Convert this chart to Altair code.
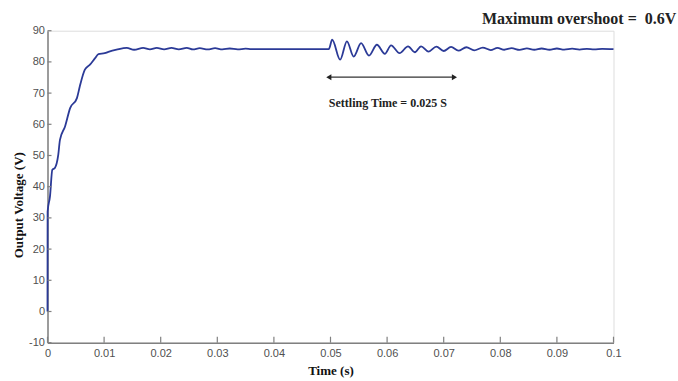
import altair as alt
import pandas as pd

# --- data ---
time_s = [0.0, 0.00002, 0.00044, 0.00085, 0.0013, 0.0019, 0.0022, 0.0031, 0.0040, 0.0052,
          0.0057, 0.0066, 0.0075, 0.0084, 0.0090, 0.0101, 0.0109, 0.0122,
          0.0140, 0.0153, 0.0169, 0.0181, 0.0193, 0.0206, 0.0219, 0.0232, 0.0246, 0.0257,
          0.0269, 0.0283, 0.0296, 0.0309, 0.0322, 0.0336, 0.0350, 0.0360, 0.0497,
          0.0503, 0.0517, 0.0529, 0.0541, 0.0554, 0.0568, 0.0582, 0.0596, 0.0607, 0.0622,
          0.0637, 0.0649, 0.0660, 0.0673, 0.0687, 0.0700, 0.0713, 0.0726, 0.0740, 0.0754,
          0.0769, 0.0783, 0.0795, 0.0807, 0.0820, 0.0834, 0.0847, 0.0860, 0.0873, 0.0887,
          0.0900, 0.0913, 0.0927, 0.0940, 0.0953, 0.0966, 0.0980, 0.1000]
voltage = [0.0, 32.0, 36.9, 45.4, 46.0, 50.2, 55.0, 59.3, 65.2, 68.4,
           72.1, 77.5, 79.1, 81.2, 82.5, 82.8, 83.3, 83.9,
           84.5, 83.9, 84.5, 84.0, 84.5, 84.0, 84.5, 84.0, 84.5, 84.0,
           84.4, 84.0, 84.4, 84.0, 84.3, 84.0, 84.25, 84.1, 84.1,
           87.1, 80.7, 86.6, 81.7, 86.0, 82.0, 85.5, 82.6, 85.3, 82.8,
           85.0, 83.1, 85.0, 83.3, 84.9, 83.5, 84.8, 83.6, 84.7, 83.7,
           84.6, 83.8, 84.5, 83.9, 84.4, 83.85, 84.35, 83.9, 84.3, 83.9,
           84.3, 83.95, 84.25, 83.95, 84.2, 84.0, 84.2, 84.1]

x_ticks = [0.0, 0.01, 0.02, 0.03, 0.04, 0.05, 0.06, 0.07, 0.08, 0.09, 0.1]
y_ticks = [-10, 0, 10, 20, 30, 40, 50, 60, 70, 80, 90]

overshoot_text = "Maximum overshoot = \u00a00.6V"
settling_text = "Settling Time = 0.025 S"
arrow_start, arrow_end, arrow_level = 0.0497, 0.0719, 75.1

df = pd.DataFrame({"t": time_s, "v": voltage})
xt = pd.DataFrame({"t": x_ticks})
yt = pd.DataFrame({"v": y_ticks})

W, H = 566, 312
axis_gray = "#808080"
label_gray = "#505050"

xscale = alt.Scale(domain=[0, 0.1], nice=False, zero=False)
yscale = alt.Scale(domain=[-10, 90], nice=False, zero=False)

xaxis = alt.Axis(values=x_ticks, labelExpr="'' + datum.value", ticks=False, grid=False,
                 labelOverlap=False, labelFlush=False,
                 domainColor=axis_gray, domainWidth=1.5, labelColor=label_gray,
                 labelFont="Liberation Sans", labelFontSize=11, labelPadding=5,
                 title="Time (s)", titleFont="Liberation Serif", titleFontSize=13,
                 titleFontWeight="bold", titleColor="#111", titleX=283, titleY=28,
                 titleBaseline="middle", titleAlign="center")
yaxis = alt.Axis(values=y_ticks, labelExpr="'' + datum.value", ticks=False, grid=False,
                 labelOverlap=False, labelFlush=False,
                 domainColor=axis_gray, domainWidth=1.5, labelColor=label_gray,
                 labelFont="Liberation Sans", labelFontSize=11, labelPadding=3,
                 title="Output Voltage (V)", titleFont="Liberation Serif", titleFontSize=13,
                 titleFontWeight="bold", titleColor="#111", titleAngle=270,
                 titleX=-29, titleY=174, titleBaseline="middle", titleAlign="center")

line = alt.Chart(df).mark_line(color="#2b3a97", strokeWidth=1.8, interpolate="monotone").encode(
    x=alt.X("t:Q", scale=xscale, axis=xaxis),
    y=alt.Y("v:Q", scale=yscale, axis=yaxis),
)

ytick_marks = alt.Chart(yt).mark_rule(color=axis_gray, strokeWidth=1.2).encode(
    y=alt.Y("v:Q", scale=yscale, axis=yaxis), x=alt.value(0), x2=alt.value(4))
xtick_marks = alt.Chart(xt).mark_rule(color=axis_gray, strokeWidth=1.2).encode(
    x=alt.X("t:Q", scale=xscale, axis=xaxis), y=alt.value(H), y2=alt.value(H - 6))

arrow_df = pd.DataFrame({"t": [arrow_start], "t2": [arrow_end], "v": [arrow_level]})
arrow_line = alt.Chart(arrow_df).mark_rule(color="#333", strokeWidth=1.2).encode(
    x=alt.X("t:Q", scale=xscale, axis=xaxis), x2="t2:Q", y=alt.Y("v:Q", scale=yscale, axis=yaxis))
heads_df = pd.DataFrame({"t": [arrow_start, arrow_end], "v": [arrow_level, arrow_level],
                         "shape": ["triangle-left", "triangle-right"]})
heads = alt.Chart(heads_df).mark_point(filled=True, color="#222", size=35, opacity=1).encode(
    x=alt.X("t:Q", scale=xscale, axis=xaxis), y=alt.Y("v:Q", scale=yscale, axis=yaxis),
    shape=alt.Shape("shape:N", scale=None))

settle = alt.Chart().mark_text(text=settling_text, font="Liberation Serif", fontSize=12,
                               fontWeight="bold", color="#222", align="left", baseline="middle").encode(
    x=alt.datum(0.0497, scale=xscale, axis=xaxis), y=alt.datum(66.9, scale=yscale, axis=yaxis))
overshoot = alt.Chart().mark_text(text=overshoot_text, font="Liberation Serif", fontSize=16,
                                  fontWeight="bold", color="#222", align="right", baseline="middle").encode(
    x=alt.datum(0.1111, scale=xscale, axis=xaxis), y=alt.datum(93.8, scale=yscale, axis=yaxis))

chart = alt.layer(line, ytick_marks, xtick_marks, arrow_line, heads, settle, overshoot).properties(
    width=W, height=H, autosize="none",
    padding={"left": 47.5, "top": 30.7, "right": 64.5, "bottom": 38.3},
).configure_view(stroke=None).configure(background="white")

chart.save("out.html", embed_options={"renderer": "svg", "actions": False})
